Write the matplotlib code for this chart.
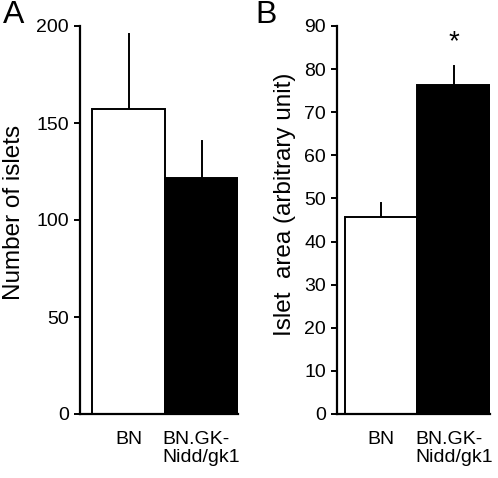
import matplotlib.pyplot as plt

plt.rcParams['font.family'] = ['Liberation Sans', 'DejaVu Sans']

groups = ['BN', 'BN.GK-\nNidd/gk1']
colors = ['white', 'black']

islet_number = [157, 121.5]
islet_number_err = [39, 19]

islet_area = [45.7, 76.3]
islet_area_err = [3.2, 4.4]

fig = plt.figure(figsize=(4.98, 4.78), dpi=100)
axA = fig.add_axes([80 / 498, 1 - 414 / 478, 158 / 498, 388 / 478])
axB = fig.add_axes([337 / 498, 1 - 414 / 478, 153 / 498, 388 / 478])


def draw(ax, vals, errs, ylim, step, ylabel, xleft):
    x = range(len(vals))
    ax.bar(x, vals, width=1.0, color=colors, edgecolor='black', linewidth=1.4, zorder=2)
    for xi, v, e in zip(x, vals, errs):
        ax.plot([xi, xi], [v, v + e], color='black', lw=1.4, zorder=1)
    ax.set_xlim(xleft, 1.5)
    ax.set_ylim(*ylim)
    ax.set_yticks(range(ylim[0], ylim[1] + 1, step))
    ax.set_xticks(list(x))
    ax.set_xticklabels(groups, fontsize=14, linespacing=1.1, multialignment='left')
    ax.tick_params(axis='x', length=0, pad=12)
    ax.tick_params(axis='y', labelsize=14, length=4, width=1.4, direction='out', pad=4)
    for s in ['top', 'right']:
        ax.spines[s].set_visible(False)
    for s in ['left', 'bottom']:
        ax.spines[s].set_linewidth(1.6)
    ax.set_ylabel(ylabel, fontsize=17.5)


draw(axA, islet_number, islet_number_err, (0, 200), 50, 'Number of islets', -0.67)
draw(axB, islet_area, islet_area_err, (0, 90), 10, 'Islet  area (arbitrary unit)', -0.61)
axA.yaxis.set_label_coords(-0.345, 0.52)
axB.yaxis.set_label_coords(-0.265, 0.54)
axB.text(1, islet_area[1] + islet_area_err[1] + 2.5, '*', fontsize=20, ha='center', va='bottom')

fig.text(14 / 498, 1 - 15 / 478, 'A', fontsize=23, ha='center', va='center')
fig.text(266 / 498, 1 - 15 / 478, 'B', fontsize=23, ha='center', va='center')

fig.savefig('out.png', dpi=100)
